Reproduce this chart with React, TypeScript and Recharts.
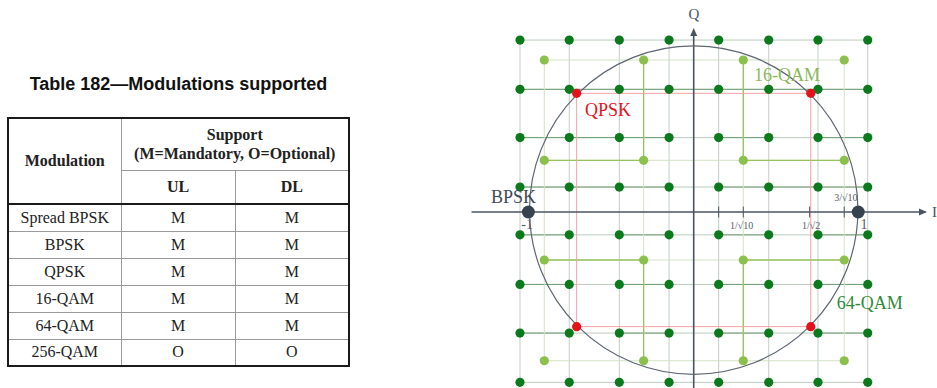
import { ScatterChart, Scatter, XAxis, YAxis, ReferenceLine, ReferenceDot } from 'recharts'

// ---- table data ----
const tableTitle = 'Table 182—Modulations supported'
const modulations = ['Spread BPSK', 'BPSK', 'QPSK', '16-QAM', '64-QAM', '256-QAM']
const ulSupport = ['M', 'M', 'M', 'M', 'M', 'O']
const dlSupport = ['M', 'M', 'M', 'M', 'M', 'O']

// ---- constellation data (unit ~ BPSK amplitude) ----
const qam64I = [-1.079, -0.773, -0.462, -0.153, 0.155, 0.466, 0.772, 1.081]
const qam64Q = [1.068, 0.762, 0.462, 0.155, -0.142, -0.45, -0.752, -1.058]
const qam16I = [-0.928, -0.311, 0.308, 0.935]
const qam16Q = [0.944, 0.321, -0.298, -0.924]
const qpskI = [-0.727, 0.727]
const qpskQ = [0.737, -0.712]
const bpskI = [-1.027, 1.022]
const circleRadius = 1.02
const axisTicks = [0.155, 0.308, 0.72, 0.935]

// 16-QAM links, [iIndex, qIndex] -> [iIndex, qIndex]
const qam16Links = [
  [[1, 0], [1, 1]],
  [[0, 1], [1, 1]],
  [[2, 0], [2, 1]],
  [[2, 1], [3, 1]],
  [[0, 2], [1, 2]],
  [[1, 2], [1, 3]],
  [[2, 2], [3, 2]],
  [[2, 2], [2, 3]],
]
// 64-QAM emphasised row segments: [row, fromCol, toCol]
const qam64Links = [
  [1, 0, 7],
  [2, 0, 3], [2, 4, 5], [2, 6, 7],
  [3, 0, 3], [3, 4, 7],
  [4, 0, 1], [4, 2, 3], [4, 4, 5], [4, 6, 7],
  [5, 0, 1], [5, 2, 3], [5, 4, 5], [5, 6, 7],
  [6, 0, 1], [6, 2, 3], [6, 4, 5], [6, 6, 7],
]

const seriesLabels = [
  { text: 'BPSK', x: -1.259, y: 0.056 },
  { text: 'QPSK', x: -0.675, y: 0.599 },
  { text: '16-QAM', x: 0.374, y: 0.811 },
  { text: '64-QAM', x: 0.888, y: -0.603 },
]
const axisLabels = [
  { text: '-1', x: -1.035, y: -0.106 },
  { text: '1', x: 1.058, y: -0.106 },
  { text: '1/√10', x: 0.297, y: -0.106 },
  { text: '1/√2', x: 0.729, y: -0.106 },
  { text: '3/√10', x: 0.945, y: 0.071 },
]

const labelColors: Record<string, string> = {
  BPSK: '#3f4b57',
  QPSK: '#e3141c',
  '16-QAM': '#8bb858',
  '64-QAM': '#2f8a3c',
}

const W = 477
const H = 388
const X_DOMAIN: [number, number] = [-1.4516, 1.5112]
const Y_DOMAIN: [number, number] = [-1.0932, 1.3168]
const PX = W / (X_DOMAIN[1] - X_DOMAIN[0])

const SERIF = '"Liberation Serif", "Times New Roman", serif'
const AXIS = '#4a5560'

const qam64Data = qam64Q.flatMap((y) => qam64I.map((x) => ({ x, y })))
const qam16Data = qam16Q.flatMap((y) => qam16I.map((x) => ({ x, y })))
const qpskData = qpskQ.flatMap((y) => qpskI.map((x) => ({ x, y })))
const bpskData = bpskI.map((x) => ({ x, y: 0 }))

const dot = (r: number, fill: string) => (p: any) => <circle cx={p.cx} cy={p.cy} r={r} fill={fill} />

const textShape = (text: string, color: string, size: number, anchor: string) => (p: any) => (
  <text x={p.cx} y={p.cy} fill={color} fontSize={size} fontFamily={SERIF} textAnchor={anchor}>
    {text}
  </text>
)

function seg(x1: number, y1: number, x2: number, y2: number, stroke: string, width = 1, key?: string) {
  return (
    <ReferenceLine
      key={key}
      segment={[{ x: x1, y: y1 }, { x: x2, y: y2 }]}
      stroke={stroke}
      strokeWidth={width}
      ifOverflow="visible"
    />
  )
}

function Constellation() {
  return (
    <ScatterChart width={W} height={H} margin={{ top: 0, right: 0, bottom: 0, left: 0 }}>
      <XAxis type="number" dataKey="x" domain={X_DOMAIN} hide allowDataOverflow />
      <YAxis type="number" dataKey="y" domain={Y_DOMAIN} hide allowDataOverflow />

      {/* 64-QAM grid */}
      {qam64I.map((x, i) => seg(x, qam64Q[0], x, qam64Q[7], '#c3cec3', 1, `v64${i}`))}
      {qam64Q.map((y, i) => seg(qam64I[0], y, qam64I[7], y, '#bccbbc', 1, `h64${i}`))}
      {qam64Links.map(([r, a, b], i) =>
        seg(qam64I[a], qam64Q[r], qam64I[b], qam64Q[r], '#6f9e72', 1, `l64${i}`)
      )}

      {/* 16-QAM grid */}
      {qam16I.map((x, i) => seg(x, qam16Q[0], x, qam16Q[3], '#d3e2c4', 1, `v16${i}`))}
      {qam16Q.map((y, i) => seg(qam16I[0], y, qam16I[3], y, '#d3e2c4', 1, `h16${i}`))}
      {qam16Links.map(([[a, b], [c, d]], i) =>
        seg(qam16I[a], qam16Q[b], qam16I[c], qam16Q[d], '#96c35e', 1.3, `l16${i}`)
      )}

      {/* QPSK square */}
      {seg(qpskI[0], qpskQ[0], qpskI[1], qpskQ[0], '#f2a3a3', 1, 'q1')}
      {seg(qpskI[1], qpskQ[0], qpskI[1], qpskQ[1], '#f2a3a3', 1, 'q2')}
      {seg(qpskI[1], qpskQ[1], qpskI[0], qpskQ[1], '#f2a3a3', 1, 'q3')}
      {seg(qpskI[0], qpskQ[1], qpskI[0], qpskQ[0], '#f2a3a3', 1, 'q4')}

      {/* unit circle */}
      <ReferenceDot
        x={0}
        y={0.012}
        r={circleRadius * PX}
        fill="none"
        stroke="#5d6672"
        strokeWidth={1.2}
        ifOverflow="visible"
      />

      {/* axes */}
      {seg(-1.38, 0, 1.44, 0, AXIS, 1.6, 'axI')}
      {seg(0, Y_DOMAIN[0], 0, 1.12, AXIS, 1.6, 'axQ')}
      {axisTicks.map((t, i) => seg(t, -0.034, t, 0.034, AXIS, 1, `tk${i}`))}
      <ReferenceDot
        x={1.449}
        y={0}
        ifOverflow="visible"
        shape={(p: any) => (
          <polygon points={`${p.cx},${p.cy} ${p.cx - 8},${p.cy - 3.5} ${p.cx - 8},${p.cy + 3.5}`} fill={AXIS} />
        )}
      />
      <ReferenceDot
        x={0}
        y={1.143}
        ifOverflow="visible"
        shape={(p: any) => (
          <polygon points={`${p.cx},${p.cy} ${p.cx - 3.5},${p.cy + 8} ${p.cx + 3.5},${p.cy + 8}`} fill={AXIS} />
        )}
      />

      <Scatter data={qam64Data} isAnimationActive={false} shape={dot(4.6, '#0b7a1c')} />
      <Scatter data={qam16Data} isAnimationActive={false} shape={dot(4.6, '#8cc04c')} />
      <Scatter data={qpskData} isAnimationActive={false} shape={dot(4.6, '#e3121b')} />
      <Scatter data={bpskData} isAnimationActive={false} shape={dot(6.5, '#36434f')} />

      {seriesLabels.map((l) => (
        <ReferenceDot
          key={l.text}
          x={l.x}
          y={l.y}
          ifOverflow="visible"
          shape={textShape(l.text, labelColors[l.text], 18, 'start')}
        />
      ))}
      {axisLabels.map((l) => (
        <ReferenceDot
          key={l.text}
          x={l.x}
          y={l.y}
          ifOverflow="visible"
          shape={textShape(l.text, '#55606b', l.text.length > 2 ? 10 : 14, 'middle')}
        />
      ))}
      <ReferenceDot x={0.002} y={1.199} ifOverflow="visible" shape={textShape('Q', AXIS, 15, 'middle')} />
      <ReferenceDot x={1.48} y={-0.031} ifOverflow="visible" shape={textShape('I', AXIS, 15, 'start')} />
    </ScatterChart>
  )
}

const cell: React.CSSProperties = {
  border: '1px solid #9a9a9a',
  textAlign: 'center',
  padding: 0,
  fontFamily: SERIF,
  fontSize: 16,
  color: '#222',
}

function SupportTable() {
  return (
    <>
      <div
        style={{
          position: 'absolute',
          left: 0,
          top: 74,
          width: 357,
          textAlign: 'center',
          lineHeight: '18px',
          font: 'bold 18px "Liberation Sans", Arial, sans-serif',
          color: '#111',
        }}
      >
        {tableTitle}
      </div>
      <table
        style={{
          position: 'absolute',
          left: 7,
          top: 117,
          width: 341,
          height: 249,
          borderCollapse: 'collapse',
          tableLayout: 'fixed',
          border: '2px solid #1a1a1a',
        }}
      >
        <colgroup>
          <col style={{ width: 113 }} />
          <col style={{ width: 114 }} />
          <col style={{ width: 114 }} />
        </colgroup>
        <thead>
          <tr style={{ height: 52 }}>
            <th rowSpan={2} style={{ ...cell, fontWeight: 'bold', borderBottom: '2px solid #1a1a1a' }}>
              Modulation
            </th>
            <th colSpan={2} style={{ ...cell, fontWeight: 'bold', lineHeight: '19px' }}>
              Support
              <br />
              (M=Mandatory, O=Optional)
            </th>
          </tr>
          <tr style={{ height: 34 }}>
            <th style={{ ...cell, fontWeight: 'bold', borderBottom: '2px solid #1a1a1a' }}>UL</th>
            <th style={{ ...cell, fontWeight: 'bold', borderBottom: '2px solid #1a1a1a' }}>DL</th>
          </tr>
        </thead>
        <tbody>
          {modulations.map((m, i) => (
            <tr key={m} style={{ height: 27 }}>
              <td style={cell}>{m}</td>
              <td style={cell}>{ulSupport[i]}</td>
              <td style={cell}>{dlSupport[i]}</td>
            </tr>
          ))}
        </tbody>
      </table>
    </>
  )
}

export default function App() {
  return (
    <div
      style={{
        position: 'absolute',
        left: 0,
        top: 0,
        width: 937,
        height: 388,
        background: '#fff',
        overflow: 'hidden',
      }}
    >
      <SupportTable />
      <div style={{ position: 'absolute', left: 460, top: 0, width: W, height: H }}>
        <Constellation />
      </div>
    </div>
  )
}
